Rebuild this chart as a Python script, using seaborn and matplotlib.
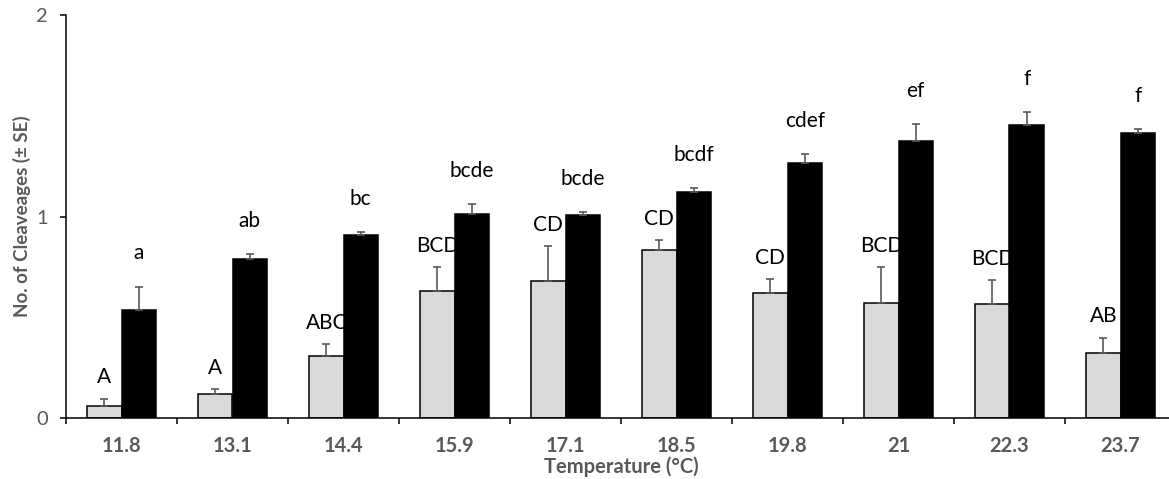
import matplotlib
matplotlib.use("Agg")
import matplotlib.pyplot as plt
import matplotlib.ticker as mticker
import numpy as np
import pandas as pd
import seaborn as sns

# ---- data -------------------------------------------------------------
temperatures = ["11.8", "13.1", "14.4", "15.9", "17.1", "18.5", "19.8", "21", "22.3", "23.7"]

series_names = ["Series 1", "Series 2"]

series1_mean = [0.061, 0.118, 0.308, 0.632, 0.680, 0.835, 0.622, 0.569, 0.564, 0.321]
series1_se = [0.035, 0.027, 0.058, 0.119, 0.175, 0.050, 0.066, 0.182, 0.121, 0.078]
series1_letters = ["A", "A", "ABC", "BCD", "CD", "CD", "CD", "BCD", "BCD", "AB"]

series2_mean = [0.534, 0.788, 0.910, 1.014, 1.006, 1.120, 1.264, 1.376, 1.454, 1.413]
series2_se = [0.118, 0.024, 0.013, 0.047, 0.016, 0.020, 0.046, 0.082, 0.063, 0.020]
series2_letters = ["a", "ab", "bc", "bcde", "bcde", "bcdf", "cdef", "ef", "f", "f"]

y_ticks = [0, 1, 2]

# ---- styling ----------------------------------------------------------
sns.set_theme(style="white")
plt.rcParams["font.family"] = ["Lato", "DejaVu Sans"]

label_grey = "#595959"
err_grey = "#595959"
fills = {series_names[0]: "#d9d9d9", series_names[1]: "#000000"}

df = pd.DataFrame({
    "Temperature": temperatures * 2,
    "Series": [series_names[0]] * len(temperatures) + [series_names[1]] * len(temperatures),
    "Value": series1_mean + series2_mean,
})

fig = plt.figure(figsize=(11.69, 4.79), dpi=100)
ax = fig.add_axes([66 / 1169, 61 / 479, 1110 / 1169, 403 / 479])

sns.barplot(
    data=df, x="Temperature", y="Value", hue="Series", order=temperatures,
    hue_order=series_names, palette=fills, width=0.62, gap=0,
    errorbar=None, edgecolor="black", linewidth=1.1, legend=False, ax=ax,
)
bar_containers = list(ax.containers)

# one-sided (upper) standard-error bars and significance letters
ses = [series1_se, series2_se]
letters = [series1_letters, series2_letters]
letter_offset = [0.105, 0.165]
for k, container in enumerate(bar_containers):
    for bar, se, letter in zip(container, ses[k], letters[k]):
        xc = bar.get_x() + bar.get_width() / 2
        top = bar.get_height()
        ax.errorbar(xc, top, yerr=[[0], [se]], fmt="none", ecolor=err_grey,
                    elinewidth=1.2, capsize=3, capthick=1.2, zorder=3)
        ax.text(xc, top + se + letter_offset[k], letter, ha="center", va="center",
                fontsize=15, color="black")

# axes
ax.set_ylim(0, 2)
ax.set_xlim(-0.5, len(temperatures) - 0.5)
ax.set_yticks(y_ticks)
ax.set_yticklabels([str(t) for t in y_ticks])

ax.xaxis.set_major_locator(mticker.FixedLocator(np.arange(-0.5, len(temperatures) - 0.5, 1.0)))
ax.xaxis.set_major_formatter(mticker.NullFormatter())
ax.xaxis.set_minor_locator(mticker.FixedLocator(np.arange(len(temperatures))))
ax.xaxis.set_minor_formatter(mticker.FixedFormatter(temperatures))

ax.tick_params(axis="x", which="major", direction="out", length=4, width=1.1,
               color="black", bottom=True)
ax.tick_params(axis="x", which="minor", length=0, pad=13, labelsize=14.5,
               labelcolor=label_grey, bottom=True)
for lbl in ax.get_xticklabels(minor=True):
    lbl.set_fontweight("bold")
ax.tick_params(axis="y", direction="out", length=4, width=1.1, color="black",
               pad=9, labelsize=14.5, labelcolor=label_grey, left=True)

for side in ["top", "right"]:
    ax.spines[side].set_visible(False)
for side in ["left", "bottom"]:
    ax.spines[side].set_color("black")
    ax.spines[side].set_linewidth(1.1)

ax.set_xlabel("Temperature (°C)", fontsize=14.5, fontweight="bold",
              color=label_grey, labelpad=0)
ax.set_ylabel("No. of Cleaveages (± SE)", fontsize=13.5, fontweight="bold",
              color=label_grey, labelpad=4)

fig.savefig("out.png", dpi=100)
